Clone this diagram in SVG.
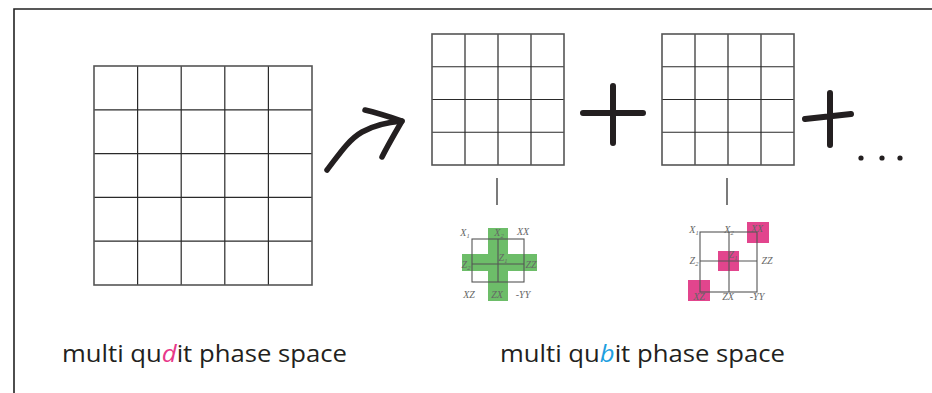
<svg xmlns="http://www.w3.org/2000/svg" width="932" height="393" viewBox="0 0 932 393">
  <style>
    .frame { fill: none; stroke: #222; stroke-width: 1.6; }
    .grid-in { stroke: #2a2a2a; stroke-width: 1.2; fill: none; }
    .grid-out { stroke: #555; stroke-width: 1.6; fill: none; }
    .ink { fill: none; stroke: #231f20; stroke-linecap: round; stroke-linejoin: round; }
    .stem { stroke: #333; stroke-width: 1.3; }
    .small { stroke: #555; stroke-width: 1.1; fill: none; }
    .lbl { font-family: "Liberation Serif", serif; font-style: italic; font-size: 10px; fill: #666; text-anchor: middle; }
    .sub { font-size: 6.5px; fill: #666; }
    .caption { font-family: "Open Sans", "Noto Sans", sans-serif; font-size: 24px; fill: #231f20; }
    .green { fill: #6dbd69; }
    .pink { fill: #e2458d; }
  </style>

  <!-- outer frame (open on right and bottom) -->
  <path class="frame" d="M14,393 V9 H932"/>

  <!-- 5x5 qudit grid -->
  <g id="qudit-grid">
    <path class="grid-in" d="M137.6,66 V285 M181.2,66 V285 M224.8,66 V285 M268.4,66 V285 M94,109.8 H312 M94,153.6 H312 M94,197.4 H312 M94,241.2 H312"/>
    <rect class="grid-out" x="94" y="66" width="218" height="219"/>
  </g>

  <!-- 4x4 qubit grids -->
  <g id="qubit-grid-1">
    <path class="grid-in" d="M465,34 V165 M498,34 V165 M531,34 V165 M432,66.75 H564 M432,99.5 H564 M432,132.25 H564"/>
    <rect class="grid-out" x="432" y="34" width="132" height="131"/>
  </g>
  <g id="qubit-grid-2">
    <path class="grid-in" d="M695,34 V165 M728,34 V165 M761,34 V165 M662,66.75 H794 M662,99.5 H794 M662,132.25 H794"/>
    <rect class="grid-out" x="662" y="34" width="132" height="131"/>
  </g>

  <!-- hand-drawn arrow, plus signs and ellipsis -->
  <g id="arrow">
    <path class="ink" stroke-width="5.5" d="M327,170 C338,156 348,140 362,132 C376,124 390,122 402,121"/>
    <path class="ink" stroke-width="5.5" d="M365,110 C378,113 390,117 402,121 C395,133 388,145 382,157"/>
  </g>
  <g id="plus-1">
    <path class="ink" stroke-width="6" d="M583,113 H643 M613,86 V143"/>
  </g>
  <g id="plus-2">
    <path class="ink" stroke-width="6" d="M805,119 L851,114 M830,93 V145"/>
  </g>
  <g id="ellipsis" fill="#231f20">
    <circle cx="861" cy="158" r="2.6"/>
    <circle cx="882" cy="158" r="2.6"/>
    <circle cx="900" cy="158" r="2.6"/>
  </g>

  <!-- connectors from grids to detail panels -->
  <g id="connectors">
    <line class="stem" x1="497" y1="178" x2="497" y2="205"/>
    <line class="stem" x1="727" y1="178" x2="727" y2="205"/>
  </g>

  <!-- detail panel: green cross -->
  <g id="panel-green">
    <rect class="green" x="488" y="228" width="20" height="73"/>
    <rect class="green" x="462" y="254" width="75" height="17"/>
    <rect class="small" x="472" y="239" width="52" height="43"/>
    <path class="small" d="M498,239 V282 M472,264 H524"/>
    <text class="lbl" x="465" y="236">X<tspan class="sub" dy="2">1</tspan></text>
    <text class="lbl" x="499" y="236">X<tspan class="sub" dy="2">2</tspan></text>
    <text class="lbl" x="523" y="235">XX</text>
    <text class="lbl" x="466" y="268">Z<tspan class="sub" dy="2">2</tspan></text>
    <text class="lbl" x="503" y="261">Z<tspan class="sub" dy="2">1</tspan></text>
    <text class="lbl" x="531" y="268">ZZ</text>
    <text class="lbl" x="469" y="298">XZ</text>
    <text class="lbl" x="497" y="298">ZX</text>
    <text class="lbl" x="523" y="298">-YY</text>
  </g>

  <!-- detail panel: pink squares -->
  <g id="panel-pink">
    <rect class="pink" x="747" y="222" width="22" height="21"/>
    <rect class="pink" x="718" y="251" width="21" height="20"/>
    <rect class="pink" x="688" y="280" width="22" height="21"/>
    <rect class="small" x="700" y="232" width="57" height="60"/>
    <path class="small" d="M729,232 V292 M700,261 H757"/>
    <text class="lbl" x="694" y="233">X<tspan class="sub" dy="2">1</tspan></text>
    <text class="lbl" x="729" y="233">X<tspan class="sub" dy="2">2</tspan></text>
    <text class="lbl" x="757" y="232">XX</text>
    <text class="lbl" x="694" y="264">Z<tspan class="sub" dy="2">2</tspan></text>
    <text class="lbl" x="733" y="258">Z<tspan class="sub" dy="2">1</tspan></text>
    <text class="lbl" x="767" y="264">ZZ</text>
    <text class="lbl" x="699" y="300">XZ</text>
    <text class="lbl" x="728" y="300">ZX</text>
    <text class="lbl" x="757" y="300">-YY</text>
  </g>

  <!-- captions -->
  <g id="caption-qudit">
    <text class="caption" x="62" y="362" textLength="285" lengthAdjust="spacingAndGlyphs">multi qu<tspan fill="#e8388a" font-style="italic">d</tspan>it phase space</text>
  </g>
  <g id="caption-qubit">
    <text class="caption" x="500" y="362" textLength="285" lengthAdjust="spacingAndGlyphs">multi qu<tspan fill="#1e9fe0" font-style="italic">b</tspan>it phase space</text>
  </g>
</svg>
